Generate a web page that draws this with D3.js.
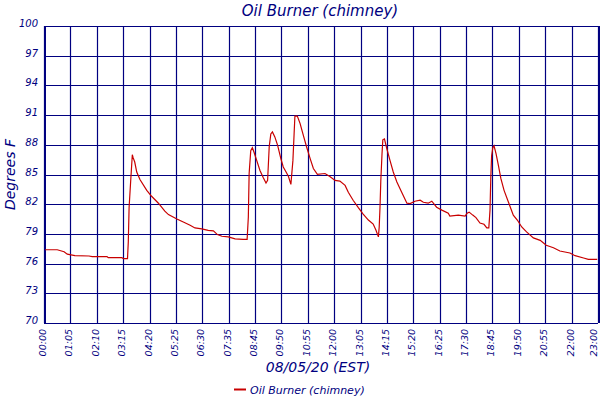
<!DOCTYPE html>
<html><head><meta charset="utf-8">
<script src="https://cdn.jsdelivr.net/npm/d3@7"></script>
<style>
html,body{margin:0;padding:0;background:#fff;}
text{font-family:"DejaVu Sans",sans-serif;font-style:italic;fill:#000080;}
</style></head>
<body><svg id="c" width="600" height="400"></svg>
<script>
const title = "Oil Burner (chimney)";
const yTitle = "Degrees F";
const xTitle = "08/05/20 (EST)";
const seriesName = "Oil Burner (chimney)";
const xTickLabels = ["00:00","01:05","02:10","03:15","04:20","05:25","06:30","07:35","08:45","09:50","10:55","12:00","13:05","14:15","15:20","16:25","17:30","18:45","19:50","20:55","22:00","23:00"];
const yTickValues = [70,73,76,79,82,85,88,91,94,97,100];
// minutes after midnight
const times = [3,33,50,58,77,112,120,157,160,194,198,208,210,212,216,220,222,226,231,239,256,268,285,301,310,331,347,364,376,393,409,422,432,443,459,476,496,506,509,511,515,519,523,530,538,546,553,557,561,565,569,575,582,590,596,603,609,615,620,623,625,631,638,646,654,663,671,681,700,712,725,737,750,758,770,783,795,808,820,827,833,835,837,839,842,844,848,854,862,870,879,891,904,912,924,937,945,957,966,978,991,1007,1011,1032,1049,1054,1059,1068,1076,1086,1096,1103,1108,1111,1113,1115,1118,1121,1126,1132,1138,1146,1157,1169,1179,1190,1202,1219,1236,1251,1269,1285,1310,1323,1344,1356,1378];
const temps = [77.4,77.4,77.2,76.95,76.8,76.77,76.71,76.71,76.6,76.6,76.5,76.5,78.2,81.7,84.4,87.0,86.7,86.26,85.25,84.5,83.4,82.8,82.1,81.3,80.95,80.5,80.2,79.87,79.6,79.5,79.36,79.3,78.93,78.76,78.7,78.5,78.45,78.45,80.7,85.1,87.4,87.7,87.27,86.4,85.4,84.7,84.14,84.4,87.8,89.1,89.3,88.8,87.95,86.6,85.76,85.25,84.8,84.0,86.4,89.1,90.9,90.9,90.14,88.96,87.8,86.6,85.6,85.02,85.1,84.8,84.4,84.34,83.9,83.2,82.4,81.65,81.0,80.4,80.0,79.36,78.7,79.7,81.7,84.4,87.1,88.5,88.6,87.6,86.4,85.25,84.24,83.2,82.1,82.06,82.3,82.4,82.2,82.1,82.3,81.7,81.4,81.1,80.8,80.9,80.8,81.1,81.2,80.9,80.65,80.1,79.97,79.6,79.6,81.4,84.75,86.9,87.7,87.9,87.1,85.9,84.6,83.4,82.2,80.9,80.4,79.7,79.2,78.6,78.35,77.85,77.6,77.27,77.07,76.8,76.57,76.43,76.43];

const svg = d3.select("#c");
const L = 44, R = 598, T = 26, B = 323;
const x = d3.scaleLinear().domain([0, 1380]).range([L, R]);
const xCat = d3.scalePoint().domain(xTickLabels).range([L, R]);
const y = d3.scaleLinear().domain([70, 100]).range([B, T]);
const navy = "#000080";

// grid
const g = svg.append("g");
g.selectAll(".v").data(xTickLabels).join("line")
  .attr("x1", d => Math.round(xCat(d)) + 0.5).attr("x2", d => Math.round(xCat(d)) + 0.5)
  .attr("y1", T).attr("y2", B).attr("stroke", navy).attr("stroke-width", 1.2);
g.selectAll(".h").data(yTickValues).join("line")
  .attr("x1", L).attr("x2", R)
  .attr("y1", d => Math.round(y(d)) + 0.5).attr("y2", d => Math.round(y(d)) + 0.5)
  .attr("stroke", navy).attr("stroke-width", 1.2);
// double frame edges
g.append("line").attr("x1", L + 1.5).attr("x2", L + 1.5).attr("y1", T).attr("y2", B).attr("stroke", navy);
g.append("line").attr("x1", R + 1.5).attr("x2", R + 1.5).attr("y1", T).attr("y2", B).attr("stroke", navy);

// y tick labels
svg.selectAll(".yl").data(yTickValues).join("text")
  .attr("x", 38).attr("y", d => y(d) + 1)
  .attr("text-anchor", "end").attr("font-size", 10)
  .text(d => d);

// x tick labels (rotated)
svg.selectAll(".xl").data(xTickLabels).join("text")
  .attr("transform", d => `translate(${Math.min(xCat(d) + 2, 597)},${B + 6}) rotate(-90)`)
  .attr("text-anchor", "end").attr("font-size", 9.5)
  .text(d => d);

// line
const line = d3.line().x((d, i) => x(times[i])).y(d => y(d)).curve(d3.curveLinear);
svg.append("path").datum(temps).attr("d", line)
  .attr("fill", "none").attr("stroke", "#c80000").attr("stroke-width", 1.2);

// titles
svg.append("text").attr("x", 320).attr("y", 16).attr("text-anchor", "middle")
  .attr("font-size", 15).text(title);
svg.append("text").attr("transform", `translate(15,${(T + B) / 2}) rotate(-90)`)
  .attr("text-anchor", "middle").attr("font-size", 14).text(yTitle);
svg.append("text").attr("x", 318).attr("y", 372).attr("text-anchor", "middle")
  .attr("font-size", 14).text(xTitle);

// legend
svg.append("line").attr("x1", 234).attr("x2", 246).attr("y1", 389.5).attr("y2", 389.5)
  .attr("stroke", "#c80000").attr("stroke-width", 2);
svg.append("text").attr("x", 250).attr("y", 393.5).attr("font-size", 11).text(seriesName);
</script></body></html>
